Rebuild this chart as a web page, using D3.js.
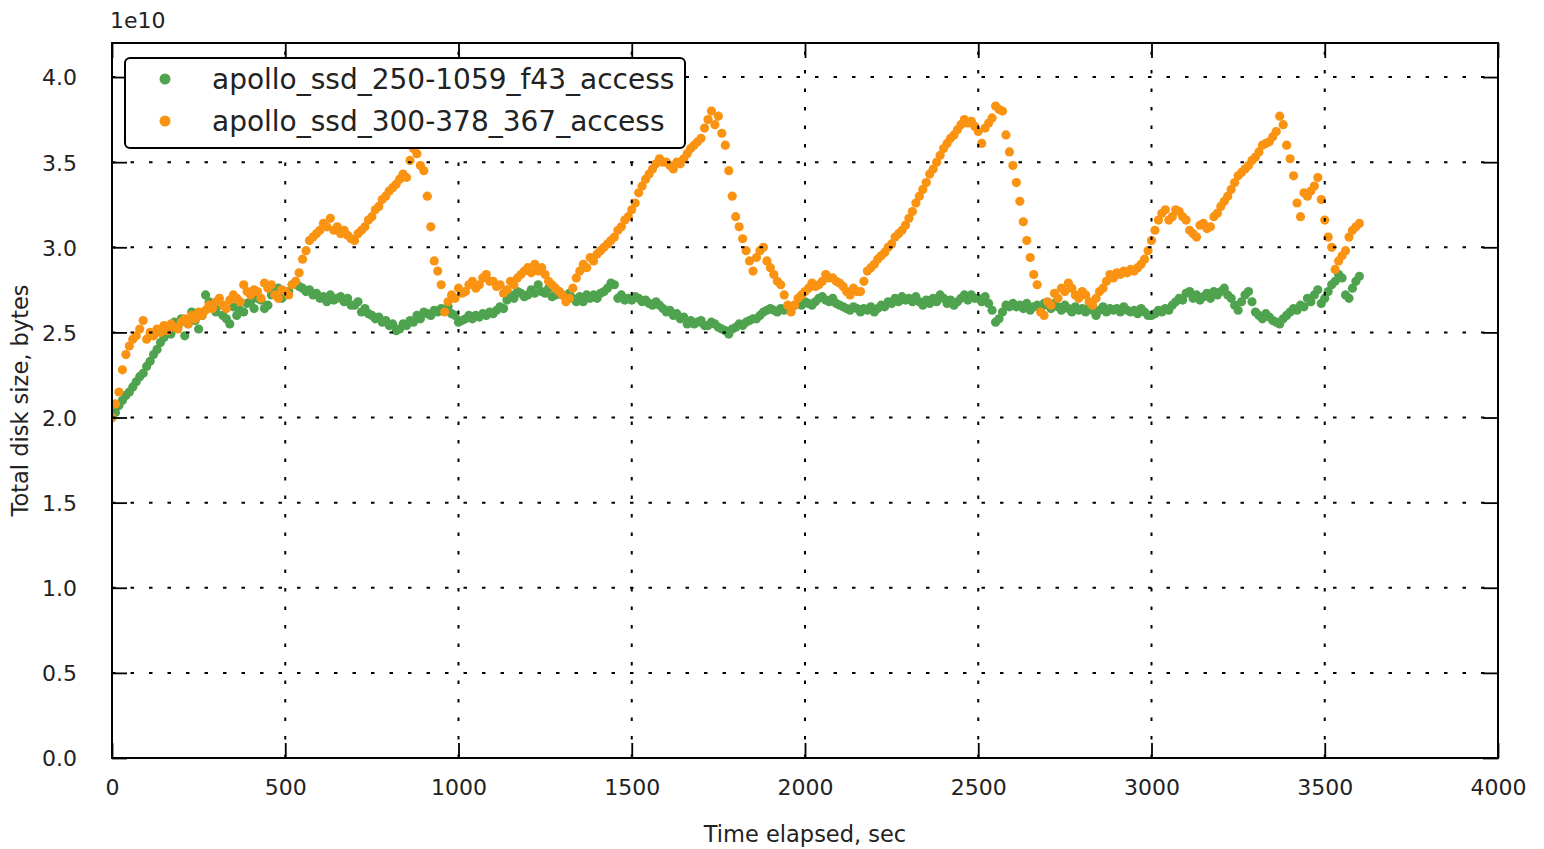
<!DOCTYPE html>
<html>
<head>
<meta charset="utf-8">
<script src="https://cdn.jsdelivr.net/npm/d3@7"></script>
<style>
  html, body { margin: 0; padding: 0; background: #fff; }
  svg { display: block; font-family: "DejaVu Sans", sans-serif; }
</style>
</head>
<body>
<svg id="chart" width="1544" height="849"></svg>
<script>
// ---- Data (values in units of 1e10 bytes), sampled every 10 s from 0 to 3600 s ----
const sampleInterval = 10;
const seriesNames = ["apollo_ssd_250-1059_f43_access", "apollo_ssd_300-378_367_access"];
const seriesColors = ["#4fa34f", "#fa9312"];

const greenValues = [
  2.00, 2.03, 2.07, 2.10, 2.13, 2.15, 2.18, 2.21, 2.24, 2.26,
  2.30, 2.33, 2.37, 2.40, 2.44, 2.47, 2.52, 2.49, 2.56, 2.53,
  2.58, 2.48, 2.55, 2.62, 2.57, 2.52, 2.60, 2.72, 2.68, 2.64,
  2.62, 2.66, 2.60, 2.58, 2.55, 2.65, 2.60, 2.63, 2.62, 2.67,
  2.68, 2.64, 2.70, 2.69, 2.64, 2.66, 2.72, 2.75, 2.76, 2.70,
  2.72, 2.74, 2.78, 2.79, 2.77, 2.76, 2.74, 2.75, 2.72, 2.73,
  2.70, 2.71, 2.68, 2.72, 2.69, 2.70, 2.71, 2.68, 2.70, 2.66,
  2.66, 2.68, 2.62, 2.64, 2.61, 2.60, 2.58, 2.59, 2.56, 2.57,
  2.54, 2.55, 2.51, 2.52, 2.55, 2.54, 2.57, 2.56, 2.60, 2.58,
  2.62, 2.61, 2.60, 2.63, 2.62, 2.64, 2.63, 2.65, 2.61, 2.60,
  2.56, 2.57, 2.58, 2.60, 2.58, 2.60, 2.59, 2.61, 2.60, 2.62,
  2.61, 2.63, 2.65, 2.64, 2.69, 2.72, 2.70, 2.74, 2.73, 2.71,
  2.72, 2.75, 2.73, 2.78, 2.74, 2.73, 2.76, 2.71, 2.72, 2.74,
  2.72, 2.70, 2.73, 2.70, 2.68, 2.71, 2.68, 2.72, 2.70, 2.72,
  2.70, 2.73, 2.74, 2.76, 2.79, 2.78, 2.70, 2.72, 2.69, 2.70,
  2.69, 2.71, 2.70, 2.68, 2.69, 2.67, 2.66, 2.68, 2.66, 2.64,
  2.62, 2.63, 2.60, 2.61, 2.58, 2.59, 2.55, 2.57, 2.55, 2.56,
  2.57, 2.54, 2.54, 2.56, 2.55, 2.53, 2.52, 2.51, 2.49, 2.52,
  2.53, 2.55, 2.54, 2.56, 2.57, 2.58, 2.58, 2.60, 2.62, 2.63,
  2.64, 2.63, 2.62, 2.64, 2.63, 2.65, 2.64, 2.66, 2.67, 2.66,
  2.68, 2.67, 2.66, 2.68, 2.70, 2.71, 2.69, 2.68, 2.70, 2.67,
  2.66, 2.65, 2.64, 2.63, 2.65, 2.64, 2.62, 2.64, 2.63, 2.65,
  2.62, 2.64, 2.66, 2.65, 2.68, 2.67, 2.70, 2.68, 2.71, 2.69,
  2.70, 2.68, 2.71, 2.68, 2.66, 2.69, 2.67, 2.70, 2.68, 2.72,
  2.70, 2.67, 2.69, 2.66, 2.68, 2.70, 2.72, 2.69, 2.72, 2.70,
  2.70, 2.68, 2.71, 2.67, 2.63, 2.56, 2.58, 2.62, 2.66, 2.65,
  2.67, 2.65, 2.66, 2.64, 2.67, 2.63, 2.65, 2.66, 2.64, 2.67,
  2.66, 2.64, 2.67, 2.65, 2.63, 2.66, 2.64, 2.62, 2.65, 2.63,
  2.64, 2.62, 2.65, 2.63, 2.60, 2.63, 2.65, 2.62, 2.64, 2.63,
  2.64, 2.62, 2.65, 2.63, 2.62, 2.63, 2.61, 2.64, 2.62, 2.60,
  2.60, 2.61, 2.63, 2.62, 2.64, 2.63, 2.66, 2.68, 2.70, 2.69,
  2.73, 2.74, 2.70, 2.72, 2.69, 2.71, 2.73, 2.70, 2.74, 2.72,
  2.74, 2.76, 2.72, 2.70, 2.66, 2.63, 2.68, 2.72, 2.74, 2.68,
  2.62, 2.60, 2.58, 2.61, 2.59, 2.57, 2.56, 2.55, 2.58, 2.60,
  2.62, 2.64, 2.63, 2.66, 2.65, 2.70, 2.68, 2.72, 2.75, 2.67,
  2.70, 2.74, 2.78, 2.80, 2.84, 2.82, 2.72, 2.70, 2.76, 2.80,
  2.83
];

const orangeValues = [
  2.00, 2.08, 2.15, 2.28, 2.37, 2.42, 2.46, 2.48, 2.52, 2.57,
  2.46, 2.50, 2.48, 2.52, 2.50, 2.54, 2.51, 2.55, 2.53, 2.52,
  2.56, 2.58, 2.55, 2.60, 2.58, 2.62, 2.60, 2.63, 2.66, 2.64,
  2.68, 2.70, 2.66, 2.64, 2.69, 2.72, 2.70, 2.68, 2.78, 2.74,
  2.72, 2.75, 2.74, 2.70, 2.79, 2.76, 2.78, 2.72, 2.70, 2.75,
  2.74, 2.72, 2.78, 2.80, 2.85, 2.93, 2.98, 3.04, 3.06, 3.08,
  3.10, 3.14, 3.12, 3.17, 3.10, 3.12, 3.08, 3.10, 3.07, 3.05,
  3.04, 3.08, 3.10, 3.12, 3.16, 3.18, 3.22, 3.24, 3.28, 3.30,
  3.33, 3.35, 3.37, 3.40, 3.43, 3.41, 3.51, 3.58, 3.55, 3.48,
  3.45, 3.30, 3.12, 2.92, 2.86, 2.78, 2.62, 2.68, 2.72, 2.70,
  2.76, 2.73, 2.74, 2.78, 2.80, 2.76, 2.78, 2.82, 2.84, 2.80,
  2.80, 2.77, 2.78, 2.73, 2.75, 2.80, 2.78, 2.82, 2.84, 2.86,
  2.88, 2.85, 2.90, 2.86, 2.88, 2.84, 2.80, 2.78, 2.76, 2.74,
  2.72, 2.68, 2.70, 2.76, 2.82, 2.86, 2.90, 2.88, 2.94, 2.92,
  2.96, 2.98, 3.00, 3.02, 3.04, 3.06, 3.10, 3.12, 3.16, 3.18,
  3.22, 3.26, 3.32, 3.36, 3.40, 3.43, 3.46, 3.49, 3.52, 3.50,
  3.50, 3.48, 3.46, 3.50, 3.49, 3.52, 3.55, 3.58, 3.60, 3.62,
  3.64, 3.70, 3.75, 3.80, 3.72, 3.77, 3.67, 3.60, 3.45, 3.30,
  3.18, 3.12, 3.05, 2.98, 2.92, 2.86, 2.94, 2.98, 3.00, 2.92,
  2.88, 2.84, 2.80, 2.78, 2.72, 2.66, 2.62, 2.66, 2.70, 2.72,
  2.74, 2.76, 2.79, 2.77, 2.78, 2.80, 2.84, 2.82, 2.82, 2.80,
  2.79, 2.77, 2.74, 2.72, 2.76, 2.74, 2.74, 2.80, 2.86, 2.88,
  2.90, 2.93, 2.95, 2.97, 3.00, 3.02, 3.06, 3.08, 3.10, 3.13,
  3.17, 3.21, 3.26, 3.30, 3.34, 3.38, 3.43, 3.46, 3.50, 3.54,
  3.58, 3.61, 3.64, 3.66, 3.69, 3.72, 3.75, 3.73, 3.74, 3.71,
  3.68, 3.61, 3.70, 3.73, 3.76, 3.83, 3.81, 3.80, 3.66, 3.56,
  3.48, 3.38, 3.27, 3.15, 3.04, 2.94, 2.84, 2.78, 2.62, 2.60,
  2.68, 2.66, 2.73, 2.70, 2.76, 2.74, 2.79, 2.76, 2.72, 2.70,
  2.74, 2.72, 2.68, 2.66, 2.70, 2.74, 2.76, 2.80, 2.84, 2.82,
  2.85, 2.84, 2.86, 2.85, 2.87, 2.86, 2.88, 2.90, 2.93, 2.98,
  3.04, 3.10, 3.16, 3.20, 3.22, 3.16, 3.18, 3.22, 3.21, 3.18,
  3.16, 3.10, 3.08, 3.06, 3.13, 3.14, 3.11, 3.12, 3.18, 3.20,
  3.24, 3.27, 3.30, 3.34, 3.38, 3.42, 3.44, 3.46, 3.48, 3.51,
  3.53, 3.56, 3.60, 3.61, 3.62, 3.65, 3.68, 3.77, 3.72, 3.60,
  3.52, 3.42, 3.26, 3.18, 3.32, 3.30, 3.33, 3.36, 3.41, 3.28,
  3.16, 3.06, 3.00, 2.87, 2.92, 2.95, 2.98, 3.06, 3.10, 3.12,
  3.14
];

const xTicks = [0, 500, 1000, 1500, 2000, 2500, 3000, 3500, 4000];
const yTicks = [0.0, 0.5, 1.0, 1.5, 2.0, 2.5, 3.0, 3.5, 4.0];
const xLabel = "Time elapsed, sec";
const yLabel = "Total disk size, bytes";
const offsetText = "1e10";

// ---- Layout ----
const svg = d3.select("#chart");
const plot = { left: 112, right: 1498, top: 43, bottom: 758 };
const x = d3.scaleLinear().domain([0, 4000]).range([plot.left, plot.right]);
const y = d3.scaleLinear().domain([0, 4.2]).range([plot.bottom, plot.top]);

const seriesList = [greenValues, orangeValues].map((vals, k) => ({
  name: seriesNames[k],
  color: seriesColors[k],
  points: vals.map((v, i) => ({ t: i * sampleInterval, v }))
}));

svg.append("defs").append("clipPath").attr("id", "clip")
  .append("rect")
  .attr("x", plot.left).attr("y", plot.top)
  .attr("width", plot.right - plot.left).attr("height", plot.bottom - plot.top);

// ---- Data points ----
const dataG = svg.append("g").attr("clip-path", "url(#clip)");
seriesList.forEach(s => {
  dataG.append("g").selectAll("circle").data(s.points).join("circle")
    .attr("cx", d => x(d.t))
    .attr("cy", d => y(d.v))
    .attr("r", 4.6)
    .attr("fill", s.color);
});

// ---- Grid (drawn above data, dotted) ----
const gridG = svg.append("g");
gridG.selectAll("line.gx").data(xTicks.slice(1, -1)).join("line")
  .attr("x1", d => x(d)).attr("x2", d => x(d))
  .attr("y1", plot.bottom).attr("y2", plot.top)
  .attr("stroke", "#000").attr("stroke-width", 2)
  .attr("stroke-dasharray", "3.5,15");
gridG.selectAll("line.gy").data(yTicks.slice(1)).join("line")
  .attr("x1", plot.left).attr("x2", plot.right)
  .attr("y1", d => y(d)).attr("y2", d => y(d))
  .attr("stroke", "#000").attr("stroke-width", 2)
  .attr("stroke-dasharray", "3.5,15");

// ---- Axes (ticks inside, all four sides) ----
const tickLen = 15;
const fmtY = d3.format(".1f");
const fmtX = d3.format("d");

const xAxisB = d3.axisBottom(x).tickValues(xTicks).tickSizeInner(-tickLen).tickSizeOuter(0).tickPadding(tickLen + 6).tickFormat(fmtX);
const xAxisT = d3.axisTop(x).tickValues(xTicks).tickSizeInner(-tickLen).tickSizeOuter(0).tickFormat("");
const yAxisL = d3.axisLeft(y).tickValues(yTicks).tickSizeInner(-tickLen).tickSizeOuter(0).tickPadding(tickLen + 20).tickFormat(fmtY);
const yAxisR = d3.axisRight(y).tickValues(yTicks).tickSizeInner(-tickLen).tickSizeOuter(0).tickFormat("");

function styleAxis(g) {
  g.select(".domain").remove();
  g.selectAll(".tick line").attr("stroke", "#000").attr("stroke-width", 1.8);
  g.selectAll(".tick text").attr("fill", "#222").attr("font-size", 22)
    .attr("font-family", "DejaVu Sans, sans-serif");
}
svg.append("g").attr("transform", `translate(0,${plot.bottom})`).call(xAxisB).call(styleAxis);
svg.append("g").attr("transform", `translate(0,${plot.top})`).call(xAxisT).call(styleAxis);
svg.append("g").attr("transform", `translate(${plot.left},0)`).call(yAxisL).call(styleAxis)
  .selectAll(".tick text").attr("dy", "0.36em");
svg.append("g").attr("transform", `translate(${plot.right},0)`).call(yAxisR).call(styleAxis);

// frame
svg.append("rect")
  .attr("x", plot.left).attr("y", plot.top)
  .attr("width", plot.right - plot.left).attr("height", plot.bottom - plot.top)
  .attr("fill", "none").attr("stroke", "#000").attr("stroke-width", 2);

// offset text
svg.append("text").attr("x", plot.left - 2).attr("y", 28)
  .attr("font-size", 22).attr("fill", "#222").text(offsetText);

// axis labels
svg.append("text")
  .attr("x", (plot.left + plot.right) / 2).attr("y", 842)
  .attr("text-anchor", "middle").attr("font-size", 22.5).attr("fill", "#222")
  .text(xLabel);
svg.append("text")
  .attr("transform", `translate(28,${(plot.top + plot.bottom) / 2}) rotate(-90)`)
  .attr("text-anchor", "middle").attr("font-size", 22.5).attr("fill", "#222")
  .text(yLabel);

// ---- Legend ----
const leg = svg.append("g");
leg.append("rect")
  .attr("x", 125).attr("y", 58).attr("width", 560).attr("height", 90)
  .attr("rx", 5).attr("ry", 5)
  .attr("fill", "#fff").attr("stroke", "#000").attr("stroke-width", 2);
seriesList.forEach((s, i) => {
  const cy = 79 + i * 42;
  leg.append("circle").attr("cx", 165).attr("cy", cy).attr("r", 5.5).attr("fill", s.color);
  leg.append("text").attr("x", 212).attr("y", cy).attr("dy", "0.35em")
    .attr("font-size", 28).attr("fill", "#222").text(s.name);
});
</script>
</body>
</html>
